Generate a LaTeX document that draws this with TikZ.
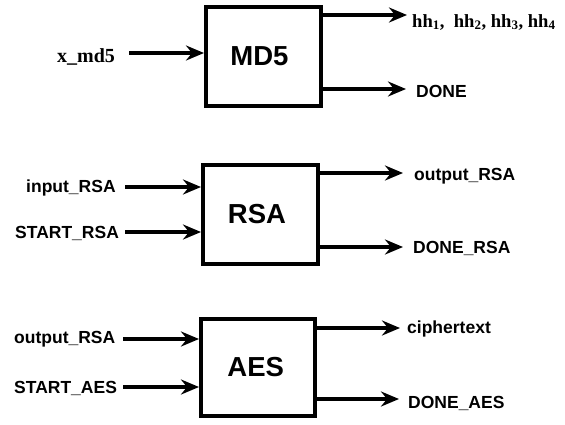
\documentclass[tikz,border=0pt]{standalone}
\usepackage{fontspec}
\setmainfont{Liberation Serif}
\setsansfont{Liberation Sans}
\usetikzlibrary{arrows.meta}
\tikzset{
  blk/.style={draw, line width=4pt, inner sep=0pt, font=\sffamily\bfseries\fontsize{27.5}{27.5}\selectfont},
  arr/.style={line width=3.6pt, -{Stealth[length=18pt,width=15pt,inset=6pt]}},
  slbl/.style={inner sep=0pt, font=\sffamily\bfseries\fontsize{17.5}{17.5}\selectfont},
  rlbl/.style={inner sep=0pt, font=\rmfamily\bfseries\fontsize{20}{20}\selectfont},
  hlbl/.style={inner sep=0pt, font=\rmfamily\bfseries\fontsize{18.6}{18.6}\selectfont},
}
\begin{document}
\begin{tikzpicture}[x=1pt,y=-1pt]
\useasboundingbox (0,0) rectangle (565,424);
% boxes
\node[blk, minimum width=115pt, minimum height=99pt] (md5) at (263.5,56.5) {\hspace*{-8pt}MD5};
\node[blk, minimum width=115pt, minimum height=99pt] (rsa) at (260.5,214.5) {\hspace*{-7pt}RSA};
\node[blk, minimum width=113.5pt, minimum height=97pt] (aes) at (257.75,367.5) {\hspace*{-4pt}AES};
% MD5 labels
\node[rlbl, anchor=base west] (xmd) at (57,62) {x\_md5};
\node[hlbl, anchor=base west] (hh) at (412,27) {hh\textsubscript{1},\ \ hh\textsubscript{2}, hh\textsubscript{3}, hh\textsubscript{4}};
\node[slbl, anchor=base west] (done) at (416,97) {DONE};
\coordinate (xmdS) at (129,53);
\coordinate (hhE) at (407,15);
\coordinate (doneE) at (406,89);
\draw[arr] (xmdS) -- (xmdS -| md5.west);
\draw[arr] (hhE -| md5.east) -- (hhE);
\draw[arr] (doneE -| md5.east) -- (doneE);
% RSA labels
\node[slbl, anchor=base west] (inrsa) at (26,192) {input\_RSA};
\node[slbl, anchor=base west] (strsa) at (15,238) {START\_RSA};
\node[slbl, anchor=base west] (outrsa) at (414,180) {output\_RSA};
\node[slbl, anchor=base west] (donersa) at (413,253) {DONE\_RSA};
\coordinate (inrsaS) at (125,187);
\coordinate (strsaS) at (125,232);
\coordinate (outrsaE) at (403,173);
\coordinate (donersaE) at (403,247);
\draw[arr] (inrsaS) -- (inrsaS -| rsa.west);
\draw[arr] (strsaS) -- (strsaS -| rsa.west);
\draw[arr] (outrsaE -| rsa.east) -- (outrsaE);
\draw[arr] (donersaE -| rsa.east) -- (donersaE);
% AES labels
\node[slbl, anchor=base west] (inaes) at (14,343) {output\_RSA};
\node[slbl, anchor=base west] (staes) at (14,393) {START\_AES};
\node[slbl, anchor=base west] (ciph) at (407,333) {ciphertext};
\node[slbl, anchor=base west] (doneaes) at (408,408) {DONE\_AES};
\coordinate (inaesS) at (123,339);
\coordinate (staesS) at (123,387);
\coordinate (ciphE) at (400,328);
\coordinate (doneaesE) at (399,399);
\draw[arr] (inaesS) -- (inaesS -| aes.west);
\draw[arr] (staesS) -- (staesS -| aes.west);
\draw[arr] (ciphE -| aes.east) -- (ciphE);
\draw[arr] (doneaesE -| aes.east) -- (doneaesE);
\end{tikzpicture}
\end{document}
